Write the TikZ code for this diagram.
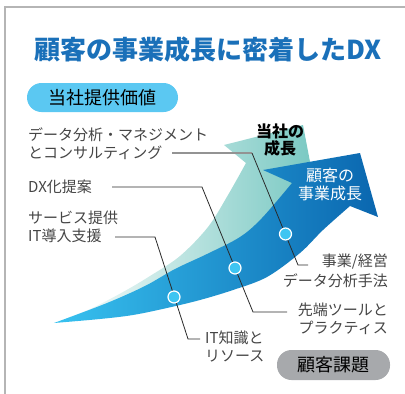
\documentclass[tikz,border=0pt]{standalone}
\usepackage{fontspec}
\newfontfamily\jp{Noto Sans CJK JP}
\usetikzlibrary{calc}
\definecolor{ttlblue}{HTML}{1A70B9}
\definecolor{pillcyan}{HTML}{5BC8F2}
\definecolor{pillgray}{HTML}{A7A9AC}
\definecolor{framegray}{HTML}{B5B5B5}
\definecolor{tealR}{HTML}{78C8C2}
\definecolor{blueL}{HTML}{38C2F0}
\definecolor{blueR}{HTML}{0A66AF}
\definecolor{dotcyan}{HTML}{3EC5F2}
\definecolor{labelgray}{HTML}{454545}
\definecolor{leader}{HTML}{2A2A2A}
\tikzset{
  lbl/.style={inner sep=0pt, text=labelgray, font={\jp\fontsize{15}{17.5}\selectfont}},
  pill/.style={rounded corners=14.5pt},
  dot/.style={circle, minimum size=12pt, inner sep=0pt, fill=dotcyan, draw=white, line width=1.2pt},
  leadline/.style={draw=leader, line width=0.8pt},
}
\begin{document}
\begin{tikzpicture}[x=1pt,y=-1pt]
\useasboundingbox (0,0) rectangle (405,394);
% frame
\draw[framegray, line width=2pt] (5,394) -- (5,7) -- (405,7);
% title
\node[inner sep=0pt, text=ttlblue, font={\jp\bfseries\fontsize{26}{30}\selectfont}] (title) at (208,50) {顧客の事業成長に密着したDX};
% pills
\fill[pillcyan, pill] (27,83) rectangle (178,112);
\node[inner sep=0pt, font={\jp\fontsize{18}{20}\selectfont}] (val) at (102.5,97.5) {当社提供価値};
\fill[pillgray, pill] (277,350) rectangle (390,380);
\node[inner sep=0pt, font={\jp\fontsize{18}{20}\selectfont}] (issue) at (333.5,365) {顧客課題};
% teal arrow (own growth)
\shade[left color=white, right color=tealR]
  (54,323) -- plot[smooth, tension=0.55] coordinates {(54,323) (90,309) (123,292) (150,276) (180,256) (208,227) (228,195) (246,163)}
  -- (224,145) -- (303,125) -- (315,188)
  -- plot[smooth, tension=0.55] coordinates {(315,188) (300,215) (250,250) (150,295) (100,315) (54,323)} -- cycle;
% blue arrow (customer growth)
\shade[left color=blueL, right color=blueR]
  (54,323) -- plot[smooth, tension=0.55] coordinates {(54,323) (107,303) (145,286) (175,269) (207,254) (240,237) (262,218) (292,183)}
  -- (263,170) -- (360,153) -- (378,217) -- (350,206)
  -- plot[smooth, tension=0.55] coordinates {(350,206) (323,230) (300,253) (267,277) (233,290) (200,300) (167,308) (133,315) (100,319) (54,323)} -- cycle;
% labels left
\node[lbl, anchor=north west, align=left] (la) at (28,128) {データ分析・マネジメント\\とコンサルティング};
\node[lbl, anchor=west] (lb) at (28,187) {DX化提案};
\node[lbl, anchor=north west, align=left] (lc) at (28,211) {サービス提供\\IT導入支援};
% labels right
\node[lbl, anchor=north east, align=right, font={\jp\fontsize{15}{20}\selectfont}] (ra) at (388,254) {事業/経営\\データ分析手法};
\node[lbl, anchor=north east, align=right, font={\jp\fontsize{15}{18}\selectfont}] (rb) at (388,303) {先端ツールと\\プラクティス};
\node[lbl, anchor=north west, align=left, font={\jp\fontsize{15}{18}\selectfont}] (rc) at (205,331) {IT知識と\\リソース};
% arrow texts
\node[inner sep=0pt, align=center, font={\jp\bfseries\fontsize{16}{17}\selectfont}] (own) at (280,140) {当社の\\成長};
\node[inner sep=0pt, align=center, text=white, font={\jp\fontsize{16}{18}\selectfont}] (cust) at (330,184) {顧客の\\事業成長};
% leader lines
\coordinate (a0) at (172,153); \coordinate (a1) at (252,153); \coordinate (a2) at (298,265); \coordinate (a3) at (308,265);
\coordinate (b0) at (112,187); \coordinate (b1) at (202,187); \coordinate (b2) at (253,312); \coordinate (b3) at (287,312);
\coordinate (c0) at (115,237); \coordinate (c1) at (155,237); \coordinate (c2) at (188,339); \coordinate (c3) at (200,339);
\draw[draw=gray!85, line width=1.3pt] (a0) -- (a1);
\draw[leadline] (a1) -- (a2) -- (a3);
\draw[leadline] (b0) -- (b1) -- (b2) -- (b3);
\draw[leadline] (c0) -- (c1) -- (c2) -- (c3);
% dots
\node[dot] (da) at (285.5,234) {};
\node[dot] (db) at (235,268) {};
\node[dot] (dc) at (174,297) {};
\end{tikzpicture}
\end{document}
